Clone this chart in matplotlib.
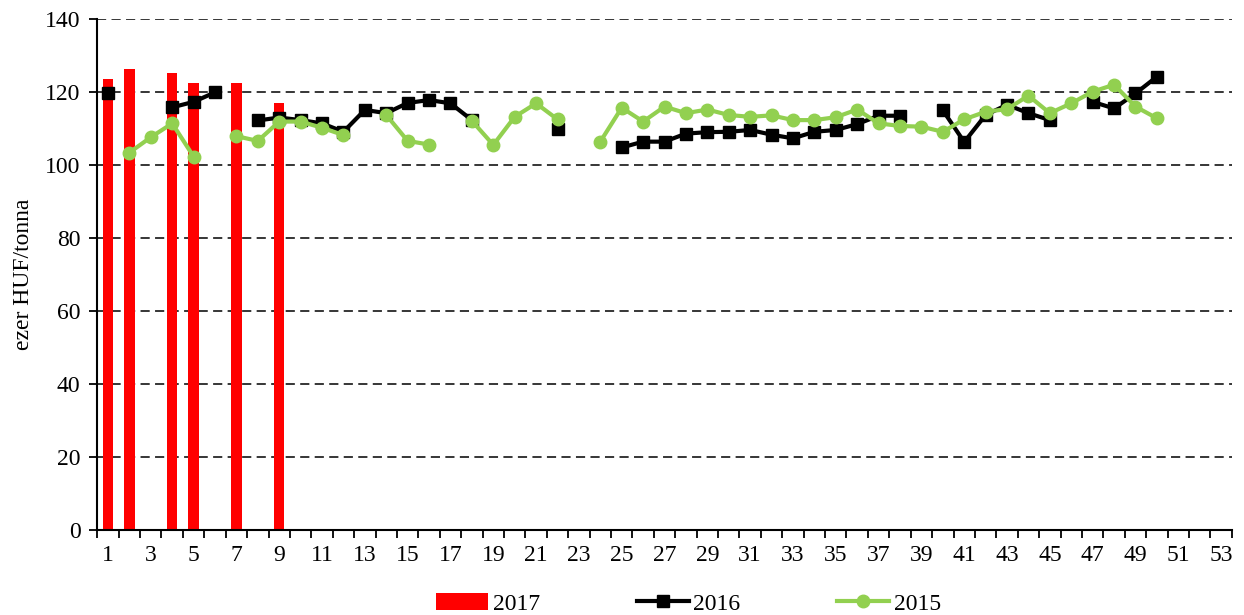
import numpy as np
import matplotlib
matplotlib.use("Agg")
import matplotlib.pyplot as plt
from matplotlib.ticker import FixedLocator, NullFormatter, FixedFormatter

nan = np.nan
weeks = list(range(1, 54))

bar_weeks_2017 = [1, 2, 4, 5, 7, 9]
values_2017 = [123.6, 126.3, 125.2, 122.5, 122.5, 117.0]

values_2016 = [119.6, nan, nan, 115.8, 117.3, 119.9, nan, 112.2, 113.0, 112.3,
               111.4, 109.1, 115.1, 114.2, 117.0, 117.8, 116.9, 112.3, nan, nan,
               nan, 110.0, nan, nan, 104.8, 106.4, 106.4, 108.6, 109.0, 109.1,
               109.6, 108.3, 107.3, 109.1, 109.6, 111.2, 113.5, 113.5, nan, 115.0,
               106.3, 113.7, 116.5, 114.2, 112.3, nan, 117.3, 115.5, 119.6, 124.2,
               nan, nan, nan]

values_2015 = [nan, 103.4, 107.6, 111.4, 102.3, nan, 107.9, 106.6, 111.9, 111.9,
               110.2, 108.2, nan, 113.7, 106.6, 105.6, nan, 112.1, 105.5, 113.2,
               116.9, 112.5, nan, 106.4, 115.7, 111.9, 116.0, 114.2, 115.2, 113.7,
               113.2, 113.6, 112.3, 112.3, 113.1, 115.2, 111.4, 110.7, 110.5, 109.1,
               112.5, 114.6, 115.3, 119.0, 114.2, 116.9, 120.1, 122.0, 116.0, 112.8,
               nan, nan, nan]

series_labels = ["2017", "2016", "2015"]
y_ticks = [0, 20, 40, 60, 80, 100, 120, 140]
x_tick_labels = [str(w) for w in weeks if w % 2 == 1]

plt.rcParams['font.family'] = ['Liberation Serif', 'DejaVu Serif']
FS = 17

fig = plt.figure(figsize=(12.44, 6.15), dpi=100)
ax = fig.add_axes([0.0782, 0.1382, 0.912, 0.8309])

h1 = ax.bar(bar_weeks_2017, values_2017, width=0.48, color='#FF0000', zorder=2,
            label=series_labels[0])
h2, = ax.plot(weeks, values_2016, color='black', linewidth=3.0, marker='s',
              markersize=9, zorder=3, label=series_labels[1])
h3, = ax.plot(weeks, values_2015, color='#92D050', linewidth=3.0, marker='o',
              markersize=9, zorder=4, label=series_labels[2])

ax.set_xlim(0.5, 53.5)
ax.set_ylim(0, 140)
ax.set_yticks(y_ticks)
ax.yaxis.grid(True, color='black', linestyle=(0, (6, 3.5)), linewidth=1.1, zorder=0)
ax.set_axisbelow(True)

ax.xaxis.set_major_locator(FixedLocator(np.arange(0.5, 54.0, 1.0)))
ax.xaxis.set_major_formatter(NullFormatter())
odd = [w for w in weeks if w % 2 == 1]
ax.xaxis.set_minor_locator(FixedLocator(odd))
ax.xaxis.set_minor_formatter(FixedFormatter(x_tick_labels))
ax.tick_params(axis='x', which='major', length=6, width=1.3, direction='out')
ax.tick_params(axis='x', which='minor', length=0, pad=11, labelsize=FS)
ax.tick_params(axis='y', length=6, width=1.3, direction='out', labelsize=FS, pad=6)

for s in ['top', 'right']:
    ax.spines[s].set_visible(False)
ax.spines['left'].set_linewidth(1.5)
ax.spines['bottom'].set_linewidth(1.5)

ax.set_ylabel('ezer HUF/tonna', fontsize=FS, labelpad=8)

fig.legend([h1, h2, h3], series_labels, loc='center', bbox_to_anchor=(0.5536, 0.018),
           ncol=3, frameon=False, fontsize=FS, handlelength=2.2, columnspacing=4.1,
           handletextpad=0.2, borderaxespad=0)

fig.savefig('out.png', dpi=100)
